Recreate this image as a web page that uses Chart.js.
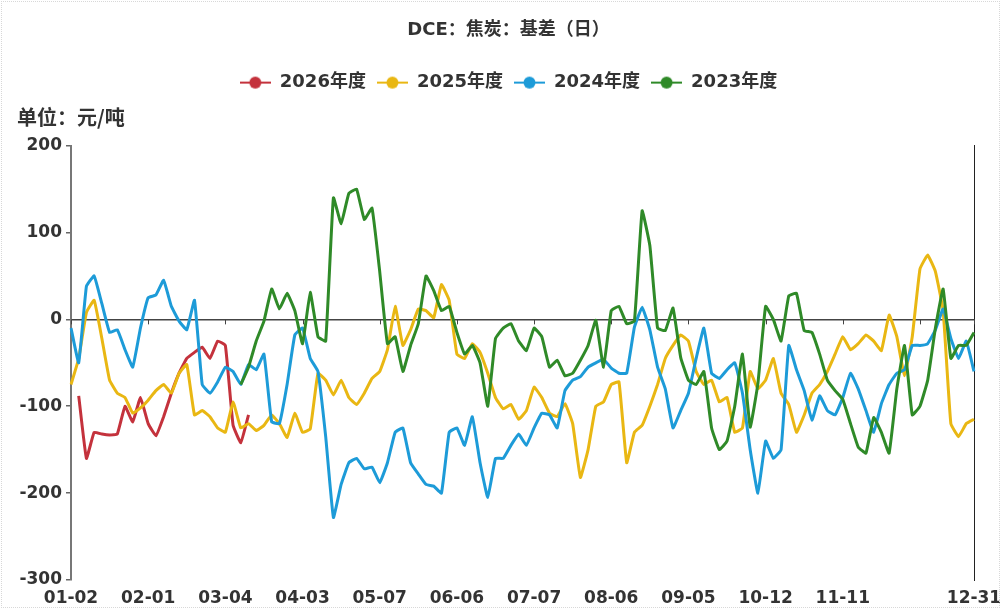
<!DOCTYPE html>
<html>
<head>
<meta charset="utf-8">
<script src="https://cdn.jsdelivr.net/npm/chart.js@4.4.0/dist/chart.umd.min.js"></script>
<style>
  html, body { margin: 0; padding: 0; background: #fff; }
  #wrap { position: relative; width: 1001px; height: 609px; }
  #frame { position: absolute; left: 1px; top: 1px; right: 1px; bottom: 1px; border: 1px dotted #d8d8d8; pointer-events: none; }
</style>
</head>
<body>
<div id="wrap">
  <canvas id="myChart" width="1001" height="609"></canvas>
  <div id="frame"></div>
</div>
<script>
// trading-day labels, roughly every 2 sessions
const dates = ('01-02 01-05 01-08 01-11 01-14 01-17 01-20 01-23 01-26 01-29 ' +
  '02-01 02-04 02-07 02-10 02-13 02-16 02-19 02-22 02-25 02-28 ' +
  '03-04 03-07 03-10 03-13 03-16 03-19 03-22 03-25 03-28 03-31 ' +
  '04-03 04-06 04-10 04-13 04-17 04-20 04-24 04-27 04-30 05-04 ' +
  '05-07 05-10 05-13 05-16 05-19 05-22 05-25 05-28 05-31 06-03 ' +
  '06-06 06-09 06-12 06-15 06-18 06-21 06-24 06-27 06-30 07-04 ' +
  '07-07 07-10 07-13 07-16 07-19 07-22 07-25 07-28 07-31 08-03 ' +
  '08-06 08-09 08-12 08-15 08-18 08-21 08-24 08-27 08-30 09-02 ' +
  '09-05 09-08 09-11 09-14 09-17 09-20 09-23 09-26 09-29 10-09 ' +
  '10-12 10-15 10-18 10-21 10-24 10-27 10-30 11-02 11-05 11-08 ' +
  '11-11 11-14 11-17 11-20 11-23 11-26 11-29 12-02 12-05 12-08 ' +
  '12-11 12-14 12-17 12-20 12-23 12-26 12-28 12-31').split(' ');

const tickDates = ['01-02', '02-01', '03-04', '04-03', '05-07', '06-06', '07-07',
  '08-06', '09-05', '10-12', '11-11', '12-11', '12-31'];
const hiddenTicks = ['12-11'];

const y2026 = [null, -88, -160, -130, -132, -133, -132, -100, -118, -90,
  -120, -134, -112, -85, -62, -45, -38, -32, -45, -25,
  -30, -122, -142, -110];

const y2025 = [-75, -45, 8, 22, -22, -70, -85, -90, -108, -102,
  -93, -82, -75, -85, -62, -52, -110, -105, -112, -125,
  -130, -95, -125, -120, -128, -122, -110, -120, -136, -108,
  -130, -126, -62, -70, -87, -70, -90, -98, -85, -68,
  -60, -35, 15, -30, -12, 12, 10, 2, 40, 22,
  -40, -45, -28, -38, -62, -90, -103, -98, -115, -105,
  -78, -90, -108, -112, -97, -120, -182, -150, -100, -95,
  -75, -72, -165, -130, -122, -100, -75, -45, -30, -18,
  -25, -60, -75, -70, -95, -90, -130, -125, -60, -80,
  -70, -45, -85, -98, -130, -110, -85, -75, -60, -40,
  -20, -35, -28, -18, -25, -36, 5, -20, -65, -20,
  58, 74, 55, 10, -120, -135, -120, -115];

const y2024 = [-10, -50, 38, 50, 18, -15, -12, -35, -55, -10,
  25, 28, 45, 15, -2, -12, 22, -75, -85, -72,
  -55, -60, -75, -52, -58, -40, -118, -120, -75, -18,
  -10, -45, -60, -135, -228, -190, -165, -160, -172, -170,
  -188, -165, -130, -125, -165, -178, -190, -192, -200, -130,
  -125, -145, -112, -165, -205, -160, -160, -145, -132, -145,
  -125, -108, -110, -125, -82, -70, -66, -55, -50, -46,
  -56, -62, -62, -9, 14, -12, -55, -80, -125, -105,
  -85, -45, -10, -62, -68, -58, -50, -85, -150, -200,
  -140, -160, -150, -30, -58, -82, -116, -88, -105, -110,
  -90, -62, -80, -105, -130, -97, -75, -62, -58, -30,
  -30, -28, -12, 12, -22, -45, -25, -60];

const y2023 = [null, null, null, null, null, null, null, null, null, null,
  null, null, null, null, null, null, null, null, null, null,
  null, null, -75, -55, -25, -2, 35, 12, 30, 10,
  -28, 31, -20, -25, 140, 110, 145, 150, 115, 128,
  55, -28, -20, -60, -30, -5, 50, 33, 10, 15,
  -15, -40, -30, -50, -100, -22, -10, -5, -25, -36,
  -10, -20, -55, -47, -65, -62, -47, -30, -1, -55,
  10, 15, -5, -2, 125, 85, -10, -13, 13, -44,
  -70, -75, -60, -125, -150, -140, -100, -40, -124, -74,
  15, 0, -25, 27, 30, -13, -15, -40, -70, -82,
  -92, -120, -147, -154, -113, -130, -154, -80, -30, -110,
  -100, -70, -10, 35, -45, -30, -30, -15];

const seriesNames = ['2026年度', '2025年度', '2024年度', '2023年度'];
const seriesColors = ['#c4323c', '#e9b713', '#1d9bd8', '#2f8a28'];
const chartTitle = 'DCE：焦炭：基差（日）';
const unitLabel = '单位：元/吨';

const tickFont = { family: "'DejaVu Sans', 'Noto Sans CJK SC'", size: 17, weight: 'bold' };

// legend marker: short line with a dot, like the original
function marker(color) {
  const c = document.createElement('canvas');
  c.width = 31; c.height = 14;
  const g = c.getContext('2d');
  g.strokeStyle = color; g.lineWidth = 2;
  g.beginPath(); g.moveTo(0, 7); g.lineTo(31, 7); g.stroke();
  g.fillStyle = color;
  g.beginPath(); g.arc(15.5, 7, 6, 0, Math.PI * 2); g.fill();
  return c;
}

function dataset(i, values) {
  return {
    label: seriesNames[i],
    data: values,
    borderColor: seriesColors[i],
    backgroundColor: seriesColors[i],
    borderWidth: 3,
    pointRadius: 0,
    pointHoverRadius: 0,
    pointStyle: marker(seriesColors[i]),
    tension: 0.1,
    order: 4 - i
  };
}

const extras = {
  id: 'extras',
  beforeDatasetsDraw(chart) {
    const { ctx, scales: { x, y } } = chart;
    const y0 = y.getPixelForValue(0);
    ctx.save();
    ctx.strokeStyle = '#444';
    ctx.lineWidth = 1;
    dates.forEach((d, i) => {
      if (!tickDates.includes(d)) return;
      const px = Math.round(x.getPixelForValue(i)) + 0.5;
      ctx.beginPath();
      ctx.moveTo(px, y0);
      ctx.lineTo(px, y0 + 5);
      ctx.stroke();
    });
    ctx.restore();
  },
  afterDraw(chart) {
    const { ctx, chartArea } = chart;
    ctx.save();
    ctx.font = "bold 20px 'Noto Sans CJK SC'";
    ctx.fillStyle = '#333';
    ctx.textBaseline = 'middle';
    ctx.fillText(unitLabel, 17, chartArea.top - 28);
    ctx.restore();
  }
};

const ctx = document.getElementById('myChart');
const myChart = new Chart(ctx, {
  type: 'line',
  data: {
    labels: dates,
    datasets: [dataset(0, y2026), dataset(1, y2025), dataset(2, y2024), dataset(3, y2023)]
  },
  options: {
    responsive: false,
    animation: false,
    layout: { padding: { left: 16, right: 0, top: 0, bottom: 0 } },
    plugins: {
      title: {
        display: true,
        text: chartTitle,
        color: '#333',
        font: { family: "'DejaVu Sans', 'Noto Sans CJK SC'", size: 18, weight: 'bold' },
        padding: { top: 20, bottom: 21 }
      },
      legend: {
        display: true,
        labels: {
          usePointStyle: true,
          pointStyleWidth: 31,
          padding: 11,
          color: '#333',
          font: { family: "'DejaVu Sans', 'Noto Sans CJK SC'", size: 18, weight: 'bold' },
          sort: (a, b) => a.datasetIndex - b.datasetIndex
        }
      },
      tooltip: { enabled: false }
    },
    scales: {
      x: {
        type: 'category',
        position: 'bottom',
        grid: { display: false, drawTicks: false },
        border: { display: false },
        ticks: {
          autoSkip: false,
          maxRotation: 0,
          minRotation: 0,
          padding: 8,
          color: '#333',
          font: tickFont,
          callback(val, i) {
            const d = dates[i];
            return tickDates.includes(d) && !hiddenTicks.includes(d) ? d : '';
          }
        },
        afterFit(s) {
          s.height = 29;
          s.paddingLeft = 0;
          s.paddingRight = 0;
        }
      },
      x2: {
        type: 'linear',
        position: 'top',
        display: true,
        grid: { display: false, drawTicks: false },
        border: { display: false },
        ticks: { display: false },
        afterFit(s) { s.height = 44; }
      },
      y: {
        min: -300,
        max: 200,
        ticks: { stepSize: 100, padding: 4, color: '#333', font: tickFont },
        grid: {
          color: c => (c.tick && c.tick.value === 0 ? '#444' : 'rgba(0,0,0,0)'),
          lineWidth: 1.5,
          tickColor: '#666',
          tickLength: 5
        },
        border: { display: true, color: '#777', width: 2 },
        afterFit(s) { s.width = 55; }
      },
      y2: {
        type: 'linear',
        position: 'right',
        display: true,
        grid: { display: false, drawTicks: false },
        ticks: { display: false },
        border: { display: true, color: '#222', width: 1 },
        afterFit(s) { s.width = 27; }
      }
    }
  },
  plugins: [extras]
});
</script>
</body>
</html>
